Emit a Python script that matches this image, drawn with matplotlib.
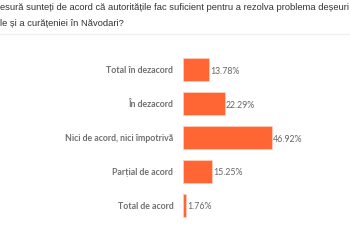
import matplotlib
matplotlib.use('Agg')
import matplotlib.pyplot as plt

# survey answers, top to bottom
categories = ['Total în dezacord', 'În dezacord', 'Nici de acord, nici împotrivă',
              'Parțial de acord', 'Total de acord']
values = [13.78, 22.29, 46.92, 15.25, 1.76]
title_lines = ['esură sunteți de acord că autoritățile fac suficient pentru a rezolva problema deșeuri',
               'le și a curățeniei în Năvodari?']

bar_color = '#ff6633'
text_color = '#666666'

fig = plt.figure(figsize=(3.5, 2.5), dpi=100)
fig.patch.set_facecolor('white')

fig.text(0.0, 1 - 3 / 250, title_lines[0], ha='left', va='top', fontsize=6.75,
         color='#333333', family='Liberation Sans')
fig.text(0.0, 1 - 19 / 250, title_lines[1], ha='left', va='top', fontsize=6.75,
         color='#333333', family='Liberation Sans')
# faint separator under the question
fig.add_artist(plt.Line2D([0, 1], [1 - 34 / 250, 1 - 34 / 250], color='#f0f0f0', lw=1))

ax = fig.add_axes([183 / 350, 1 - 222 / 250, 152 / 350, 169 / 250])
ypos = list(range(len(categories)))
ax.barh(ypos, values, height=0.68, color=bar_color, edgecolor='#ffd0c0', linewidth=0.5)
ax.set_xlim(0, 80)
ax.set_ylim(len(categories) - 0.5, -0.5)

for y, v in zip(ypos, values):
    ax.text(v + 0.4, y + 0.05, '{:.2f}%'.format(v), ha='left', va='center',
            fontsize=6.3, color=text_color, family='Lato')

ax.set_yticks(ypos)
ax.set_yticklabels(categories, fontsize=6.3, color='#707070', family='Lato',
                   fontweight='bold')
ax.tick_params(axis='y', length=0, pad=7)
ax.set_xticks([])
for s in ax.spines.values():
    s.set_visible(False)

plt.savefig('out.png', dpi=100)
